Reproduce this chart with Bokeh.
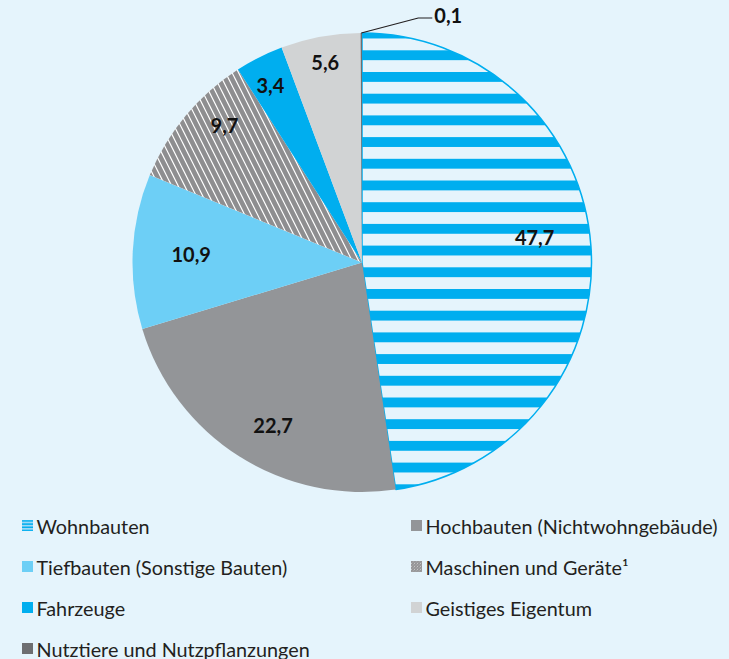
import numpy as np
from bokeh.plotting import figure
from bokeh.models import ColumnDataSource, Range1d
from bokeh.core.properties import value
from bokeh.embed import file_html
from bokeh.resources import INLINE

# ---- data ----
categories = ["Wohnbauten", "Hochbauten (Nichtwohngebäude)", "Tiefbauten (Sonstige Bauten)",
              "Maschinen und Geräte¹", "Fahrzeuge", "Geistiges Eigentum",
              "Nutztiere und Nutzpflanzungen"]
shares = [47.7, 22.7, 10.9, 9.7, 3.4, 5.6, 0.1]
share_labels = ["47,7", "22,7", "10,9", "9,7", "3,4", "5,6", "0,1"]

# ---- styles ----
BG = "#E5F4FC"
fill_colors = [BG, "#939598", "#6DCFF6", "#FFFFFF", "#00AEEF", "#D1D3D4", "#6D6E71"]
hatch_patterns = ["-", " ", " ", "\\", " ", " ", " "]
hatch_colors = ["#00AEEF", "#000000", "#000000", "#8E8E90", "#000000", "#000000", "#000000"]
hatch_scales = [21.7, 10, 10, 13, 10, 10, 10]
hatch_weights = [10, 1, 1, 4.6, 1, 1, 1]
line_alphas = [1, 0, 0, 0, 0, 0, 0]
label_radius_frac = [0.76, 0.81, 0.745, 0.845, 0.87, 0.885]
label_angle_shift = [4.0, 3.8, 0.0, -5.0, 0.7, 0.0]
legend_hatch_scales = [3.2, 10, 10, 3, 10, 10, 10]
legend_hatch_weights = [1.6, 1, 1, 1.2, 1, 1, 1]

W, H = 729, 659
p = figure(width=W, height=H, x_range=Range1d(0, W), y_range=Range1d(0, H),
           output_backend="svg", toolbar_location=None, min_border=0)
p.axis.visible = False
p.grid.visible = False
p.outline_line_color = None
p.background_fill_color = BG
p.border_fill_color = BG

# reference-pixel helper: y measured from top of page
def Y(ref_y):
    return H - ref_y

cx, cy, R = 361.5, Y(262), 229.5

vals = np.array(shares, dtype=float)
total = vals.sum()
cum = np.concatenate([[0], np.cumsum(vals)])
start = np.pi / 2 - 2 * np.pi * cum[:-1] / total
end = np.pi / 2 - 2 * np.pi * cum[1:] / total
mid = (start + end) / 2

src = ColumnDataSource(dict(
    start=start, end=end, fill=fill_colors, hp=hatch_patterns, hc=hatch_colors,
    hs=hatch_scales, hw=hatch_weights, la=line_alphas, cat=categories))

p.wedge(x=cx, y=cy, radius=R, start_angle="start", end_angle="end", direction="clock",
        source=src, fill_color="fill", hatch_pattern="hp", hatch_color="hc",
        hatch_scale="hs", hatch_weight="hw", line_color="#00AEEF", line_alpha="la",
        line_width=1.5)

# slice labels
lx, ly, lt = [], [], []
for i in range(6):
    a = mid[i] + np.deg2rad(label_angle_shift[i])
    lx.append(cx + label_radius_frac[i] * R * np.cos(a))
    ly.append(cy + label_radius_frac[i] * R * np.sin(a))
    lt.append(share_labels[i])
p.text(x=lx, y=ly, text=lt, text_font=value("Lato"), text_font_style="bold",
       text_font_size="20px", text_align="center", text_baseline="middle",
       text_color="#111111")

# leader for tiny slice
sx = cx + R * np.cos(mid[6])
sy = cy + R * np.sin(mid[6])
p.line(x=[sx, sx + 57, sx + 71], y=[sy, sy + 15, sy + 15], line_color="#231F20", line_width=1.2)
p.text(x=[sx + 73], y=[sy + 18], text=[share_labels[6]], text_font=value("Lato"),
       text_font_style="bold", text_font_size="20px", text_align="left",
       text_baseline="middle", text_color="#111111")

# legend (two columns, row-wise order)
col_x = [27, 416]
row_y = [525, 566, 607, 648]
mx, my, tx, ty = [], [], [], []
for i, c in enumerate(categories):
    col, row = i % 2, i // 2
    mx.append(col_x[col])
    my.append(Y(row_y[row]))
    tx.append(col_x[col] + 9)
    ty.append(Y(row_y[row]))
legend_fills = [("#9ED8F5" if i == 0 else ("#E8E8E8" if i == 3 else fill_colors[i])) for i in range(7)]
lsrc = ColumnDataSource(dict(x=mx, y=my, fill=legend_fills,
                             hp=hatch_patterns, hc=hatch_colors, hs=legend_hatch_scales,
                             hw=legend_hatch_weights))
p.rect(x="x", y="y", width=11, height=11, source=lsrc, fill_color="fill",
       hatch_pattern="hp", hatch_color="hc", hatch_scale="hs", hatch_weight="hw",
       line_color=None)
p.text(x=tx, y=ty, text=categories, text_font=value("Lato"), text_font_size="19.8px",
       text_align="left", text_baseline="middle", text_color="#231F20")

html = file_html(p, INLINE)
html = html.replace("<head>", "<head><style>body{background:%s;}</style>" % BG, 1)
open("out.html", "w").write(html)
